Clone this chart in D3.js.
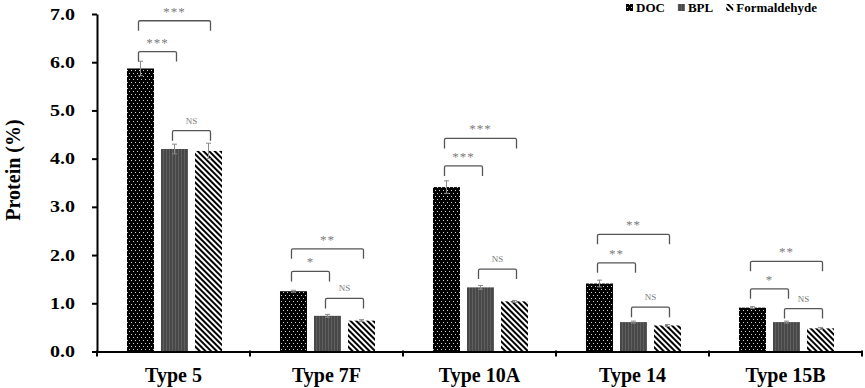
<!DOCTYPE html>
<html>
<head>
<meta charset="utf-8">
<script src="https://cdnjs.cloudflare.com/ajax/libs/d3/7.8.5/d3.min.js"></script>
<style>
  body { margin: 0; background: #fff; }
  svg { display: block; font-family: "Liberation Serif", "Times New Roman", serif; }
</style>
</head>
<body>
<div id="vis"></div>
<script>
// data
const categories = ["Type 5", "Type 7F", "Type 10A", "Type 14", "Type 15B"];
const series = ["DOC", "BPL", "Formaldehyde"];
const docValues  = [5.87, 1.25, 3.41, 1.41, 0.91];
const bplValues  = [4.20, 0.74, 1.33, 0.61, 0.61];
const formValues = [4.16, 0.64, 1.04, 0.54, 0.48];
const docErr  = [0.15, 0.02, 0.13, 0.07, 0.02];
const bplErr  = [0.10, 0.03, 0.04, 0.02, 0.02];
const formErr = [0.16, 0.02, 0.02, 0.02, 0.02];
const yTicks = [0, 1, 2, 3, 4, 5, 6, 7];

// significance brackets: category, bar pair, height (protein %), label
const bracketCats   = ["Type 5","Type 5","Type 5","Type 7F","Type 7F","Type 7F","Type 10A","Type 10A","Type 10A","Type 14","Type 14","Type 14","Type 15B","Type 15B","Type 15B"];
const bracketFrom   = [0, 0, 1, 0, 0, 1, 0, 0, 1, 0, 0, 1, 0, 0, 1];
const bracketTo     = [1, 2, 2, 1, 2, 2, 1, 2, 2, 1, 2, 2, 1, 2, 2];
const bracketLevel  = [6.22, 6.86, 4.58, 1.66, 2.13, 1.10, 3.85, 4.42, 1.71, 1.84, 2.43, 0.92, 1.30, 1.87, 0.89];
const bracketLabels = ["***","***","NS","*","**","NS","***","***","NS","**","**","NS","*","**","NS"];

const width = 865, height = 388;
const margin = {top: 14, right: 3, bottom: 36.5, left: 97};
const serif = "Liberation Serif, Times New Roman, serif";

const svg = d3.select("#vis").append("svg")
    .attr("width", width)
    .attr("height", height);

const defs = svg.append("defs");
// DOC: black with sparse white dots
const pDoc = defs.append("pattern").attr("id", "pDoc")
    .attr("patternUnits", "userSpaceOnUse").attr("width", 4).attr("height", 6);
pDoc.append("rect").attr("width", 4).attr("height", 6).attr("fill", "#000");
pDoc.append("rect").attr("x", 1).attr("y", 1).attr("width", 1).attr("height", 1).attr("fill", "#d0d0d0");
pDoc.append("rect").attr("x", 3).attr("y", 4).attr("width", 1).attr("height", 1).attr("fill", "#d0d0d0");
// BPL: dark grey with faint vertical lines
const pBpl = defs.append("pattern").attr("id", "pBpl")
    .attr("patternUnits", "userSpaceOnUse").attr("width", 3).attr("height", 3);
pBpl.append("rect").attr("width", 3).attr("height", 3).attr("fill", "#484848");
pBpl.append("rect").attr("x", 1).attr("width", 1).attr("height", 3).attr("fill", "#5f5f5f");
// Formaldehyde: diagonal stripes
const pForm = defs.append("pattern").attr("id", "pForm")
    .attr("patternUnits", "userSpaceOnUse").attr("width", 4).attr("height", 4)
    .attr("patternTransform", "rotate(-45)");
pForm.append("rect").attr("width", 4).attr("height", 4).attr("fill", "#fff");
pForm.append("rect").attr("width", 2).attr("height", 4).attr("fill", "#000");

const fills = ["url(#pDoc)", "url(#pBpl)", "url(#pForm)"];
const values = [docValues, bplValues, formValues];
const errs = [docErr, bplErr, formErr];

const x = d3.scaleBand().domain(categories).range([margin.left, width - margin.right]);
const bw = x.bandwidth();
const x1 = d3.scaleBand().domain(d3.range(series.length))
    .range([bw * 0.196, bw * 0.817]).paddingInner(0.206);
const y = d3.scaleLinear().domain([0, 7]).range([height - margin.bottom, margin.top]);

function stretch(sel, s) {
  sel.attr("transform", function() {
    const tx = +d3.select(this).attr("x") || 0;
    return `translate(${tx},0) scale(${s},1) translate(${-tx},0)`;
  });
}

// bars
const rows = [];
categories.forEach((c, i) => series.forEach((s, j) => {
  rows.push({cat: c, s: j, v: values[j][i], e: errs[j][i]});
}));

svg.append("g").selectAll("rect")
  .data(rows)
  .join("rect")
    .attr("x", d => x(d.cat) + x1(d.s))
    .attr("y", d => y(d.v))
    .attr("width", x1.bandwidth())
    .attr("height", d => y(0) - y(d.v))
    .attr("fill", d => fills[d.s]);

// error bars
const eg = svg.append("g").attr("stroke", "#8a8a8a").attr("stroke-width", 1).attr("fill", "none");
eg.selectAll("path")
  .data(rows)
  .join("path")
    .attr("d", d => {
      const cx = x(d.cat) + x1(d.s) + x1.bandwidth() / 2;
      const t = y(d.v + d.e), b = y(d.v - d.e);
      return `M${cx - 2.5},${t}H${cx + 2.5}M${cx},${t}V${b}M${cx - 2.5},${b}H${cx + 2.5}`;
    });

// significance brackets
const br = bracketCats.map((c, i) => ({cat: c, a: bracketFrom[i], b: bracketTo[i], v: bracketLevel[i], label: bracketLabels[i]}));
const bg = svg.append("g");
bg.selectAll("path")
  .data(br)
  .join("path")
    .attr("fill", "none")
    .attr("stroke", "#555")
    .attr("stroke-width", 1.3)
    .attr("d", d => {
      const xa = x(d.cat) + x1(d.a) + x1.bandwidth() / 2 - 2;
      const xb = x(d.cat) + x1(d.b) + x1.bandwidth() / 2 + 2;
      const yy = y(d.v);
      return `M${xa},${yy + 10}V${yy + 1.5}Q${xa},${yy} ${xa + 1.5},${yy}H${xb - 1.5}Q${xb},${yy} ${xb},${yy + 1.5}V${yy + 10}`;
    });
bg.selectAll("text")
  .data(br)
  .join("text")
    .attr("x", d => x(d.cat) + (x1(d.a) + x1(d.b) + x1.bandwidth()) / 2)
    .attr("y", d => y(d.v) - (d.label === "NS" ? 7 : 5))
    .attr("text-anchor", "middle")
    .attr("fill", "#7a7a7a")
    .attr("font-size", d => d.label === "NS" ? 9 : 13)
    .attr("letter-spacing", d => d.label === "NS" ? 0 : 1)
    .text(d => d.label);

// y axis
const yAxis = svg.append("g")
    .attr("transform", `translate(${margin.left},0)`)
    .call(d3.axisLeft(y).tickValues(yTicks).tickFormat(d3.format(".1f"))
      .tickSize(5).tickSizeOuter(0).tickPadding(17));
yAxis.select(".domain").attr("stroke-width", 2);
yAxis.selectAll(".tick line").attr("stroke-width", 2);
yAxis.selectAll(".tick text")
    .attr("font-size", 16).attr("font-weight", "bold").attr("fill", "#000")
    .attr("font-family", serif)
    .call(stretch, 1.25);

// x axis
const xAxis = svg.append("g")
    .attr("transform", `translate(0,${y(0)})`)
    .call(d3.axisBottom(x).tickSize(0).tickPadding(16).tickSizeOuter(0));
xAxis.select(".domain").attr("stroke-width", 2);
xAxis.selectAll(".tick text")
    .attr("font-size", 20).attr("font-weight", "bold").attr("fill", "#000")
    .attr("font-family", serif);
const bounds = [x(categories[0])].concat(categories.map(c => x(c) + bw));
xAxis.append("g").selectAll("line")
  .data(bounds)
  .join("line")
    .attr("x1", d => d).attr("x2", d => d)
    .attr("y1", -1).attr("y2", 5)
    .attr("stroke", "#000").attr("stroke-width", 2);

// y title
svg.append("text")
    .attr("transform", `translate(20,170) rotate(-90)`)
    .attr("text-anchor", "middle")
    .attr("font-size", 20)
    .attr("font-weight", "bold")
    .text("Protein (%)");

// legend
const lg = svg.append("g").attr("transform", "translate(626,0)");
let lx = 0;
series.forEach((s, j) => {
  lg.append("rect").attr("x", lx).attr("y", 4).attr("width", 7).attr("height", 7).attr("fill", fills[j]);
  const t = lg.append("text").attr("x", lx + 10).attr("y", 11.5)
      .attr("font-size", 13).attr("font-weight", "bold").text(s);
  lx += 10 + t.node().getComputedTextLength() + 13;
});
</script>
</body>
</html>
